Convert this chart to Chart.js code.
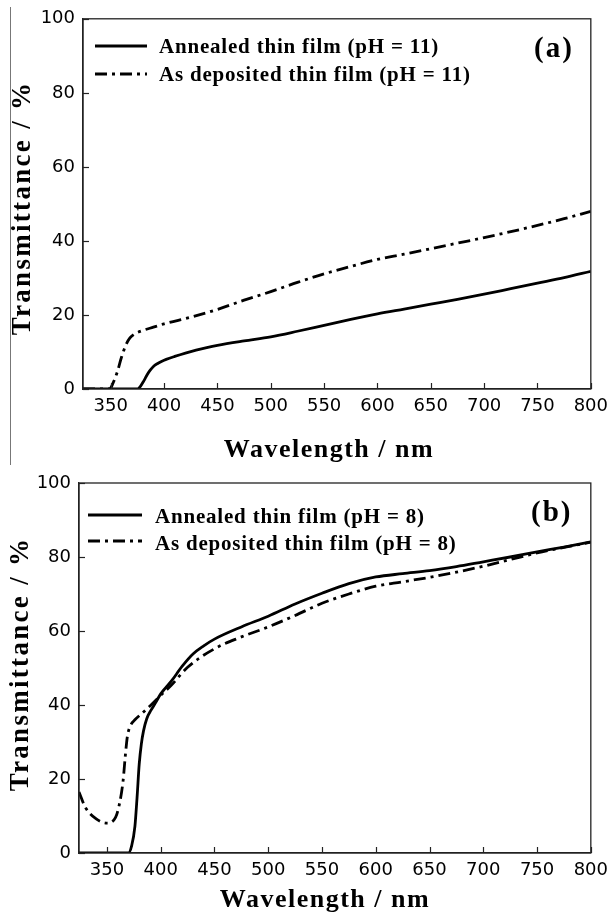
<!DOCTYPE html>
<html><head><meta charset="utf-8">
<script src="https://cdn.jsdelivr.net/npm/chart.js@4.4.1/dist/chart.umd.min.js"></script>
<style>
html,body{margin:0;padding:0;background:#fff;}
#wrap{position:relative;width:615px;height:924px;overflow:hidden;background:#fff;}
.panel{position:absolute;left:0;width:615px;height:462px;}
#edge{position:absolute;left:10px;top:7px;width:0;height:458px;border-left:1px solid #777;}
</style></head><body>
<div id="wrap">
<div class="panel" style="top:0"><canvas id="ca" width="615" height="462"></canvas></div>
<div class="panel" style="top:462px"><canvas id="cb" width="615" height="462"></canvas></div>
<div id="edge"></div>
</div>
<script>
// ---- axis / tick data ----
const xTickValues = [350, 400, 450, 500, 550, 600, 650, 700, 750, 800];
const yTickValues = [0, 20, 40, 60, 80, 100];
const xMin = 324, xMax = 800, yMin = 0, yMax = 100;
const yTitle = "Transmittance / %";
const xTitle = "Wavelength / nm";

// ---- panel (a): pH = 11 ----
const labelsA = ["Annealed thin film (pH = 11)", "As deposited thin film (pH = 11)"];
const aAnnealedWl = [324, 350, 375, 378, 381, 384, 387, 390, 394, 398, 402, 410, 420, 430, 440, 450, 475, 500, 525, 550, 575, 600, 625, 650, 675, 700, 725, 750, 775, 800];
const aAnnealedT  = [0, 0, 0, 0.8, 2.2, 3.8, 5.1, 6.1, 6.9, 7.5, 8.0, 8.8, 9.7, 10.5, 11.2, 11.8, 13.0, 14.1, 15.6, 17.2, 18.8, 20.3, 21.6, 22.9, 24.2, 25.6, 27.1, 28.6, 30.1, 31.8];
const aDepositedWl = [324, 349, 352, 356, 360, 364, 368, 372, 380, 390, 400, 425, 450, 475, 500, 525, 550, 575, 600, 625, 650, 675, 700, 725, 750, 775, 800];
const aDepositedT  = [0, 0, 1.5, 4.5, 8.5, 11.8, 13.8, 14.8, 15.8, 16.7, 17.6, 19.4, 21.5, 24.0, 26.3, 28.8, 31.1, 33.1, 35.0, 36.4, 37.9, 39.4, 40.9, 42.5, 44.2, 46.0, 48.0];

// ---- panel (b): pH = 8 ----
const labelsB = ["Annealed thin film (pH = 8)", "As deposited thin film (pH = 8)"];
const bAnnealedWl = [324, 350, 370, 373, 376, 378, 380, 382, 384, 387, 391, 395, 400, 410, 420, 430, 440, 450, 475, 500, 525, 550, 575, 600, 625, 650, 675, 700, 725, 750, 775, 800];
const bAnnealedT  = [0, 0, 0, 2.0, 7.2, 15.0, 24.0, 29.5, 33.0, 36.3, 38.6, 40.5, 43.0, 46.5, 50.5, 53.8, 56.0, 57.8, 61.1, 64.0, 67.3, 70.2, 72.8, 74.6, 75.5, 76.3, 77.4, 78.7, 80.0, 81.4, 82.7, 84.1];
const bDepositedWl = [324, 330, 340, 350, 358, 362, 365, 367, 369, 372, 376, 382, 391, 400, 410, 425, 450, 475, 500, 525, 550, 575, 600, 625, 650, 675, 700, 725, 750, 775, 800];
const bDepositedT  = [16.5, 12.3, 9.2, 8.1, 9.6, 13.8, 19.5, 26.0, 31.5, 34.5, 36.0, 37.6, 40.0, 42.6, 45.4, 50.2, 55.2, 58.4, 61.1, 64.2, 67.5, 70.0, 72.1, 73.3, 74.5, 75.9, 77.5, 79.3, 81.1, 82.6, 84.0];

const toPts = (xs, ys) => xs.map((x, i) => ({x: x, y: ys[i]}));
const DASHDOT = [12, 5, 3, 5];

function makeChart(id, cfg) {
  const ctx = document.getElementById(id);
  const datasets = [
    {label: cfg.labels[0], data: toPts(cfg.s1x, cfg.s1y), borderColor: '#000', borderWidth: 2.8, borderDash: [], pointRadius: 0, cubicInterpolationMode: 'monotone', fill: false},
    {label: cfg.labels[1], data: toPts(cfg.s2x, cfg.s2y), borderColor: '#000', borderWidth: 2.8, borderDash: DASHDOT, pointRadius: 0, cubicInterpolationMode: 'monotone', fill: false}
  ];
  const deco = {
    id: 'deco',
    afterDraw(chart) {
      const c = chart.ctx, a = chart.chartArea, sx = chart.scales.x, sy = chart.scales.y;
      c.save();
      // frame
      c.strokeStyle = '#222'; c.lineWidth = 1.3; c.setLineDash([]);
      c.strokeRect(a.left, a.top, a.right - a.left, a.bottom - a.top);
      // inside ticks
      c.lineWidth = 1.2;
      xTickValues.forEach(v => {
        const px = Math.round(sx.getPixelForValue(v)) + 0.5;
        c.beginPath(); c.moveTo(px, a.bottom); c.lineTo(px, a.bottom - 6); c.stroke();
      });
      yTickValues.forEach(v => {
        const py = Math.round(sy.getPixelForValue(v)) + 0.5;
        c.beginPath(); c.moveTo(a.left, py); c.lineTo(a.left + 6, py); c.stroke();
      });
      // legend
      c.fillStyle = '#000'; c.strokeStyle = '#000';
      chart.data.datasets.forEach((ds, i) => {
        const L = cfg.legend[i];
        c.lineWidth = 2.8; c.setLineDash(ds.borderDash || []);
        c.beginPath(); c.moveTo(L.x1, L.y); c.lineTo(L.x2, L.y); c.stroke();
        c.setLineDash([]);
        c.font = 'bold 21px "Liberation Serif", "DejaVu Serif", serif';
        try { c.letterSpacing = '0.8px'; } catch (e) {}
        c.textAlign = 'left'; c.textBaseline = 'alphabetic';
        c.fillText(ds.label, L.tx, L.ty);
      });
      // panel tag
      c.font = 'bold 29px "Liberation Serif", serif';
      try { c.letterSpacing = '2px'; } catch (e) {}
      c.textAlign = 'left'; c.textBaseline = 'alphabetic';
      c.fillText(cfg.tag, cfg.tagX, cfg.tagY);
      // x title
      c.font = 'bold 26px "Liberation Serif", serif';
      try { c.letterSpacing = '1.5px'; } catch (e) {}
      c.textAlign = 'center';
      c.fillText(xTitle, cfg.xtX, cfg.xtY);
      // y title
      c.save();
      c.translate(cfg.ytX, cfg.ytY); c.rotate(-Math.PI / 2);
      c.font = 'bold 27px "Liberation Serif", serif';
      try { c.letterSpacing = '2.3px'; } catch (e) {}
      c.textAlign = 'center'; c.textBaseline = 'middle';
      c.fillText(yTitle, 0, 0);
      c.restore();
      c.restore();
    }
  };
  return new Chart(ctx, {
    type: 'line',
    data: {datasets: datasets},
    options: {
      responsive: false, animation: false, devicePixelRatio: 1,
      layout: {padding: {left: 0, top: cfg.padTop, right: cfg.padRight, bottom: 0}},
      plugins: {legend: {display: false}, tooltip: {enabled: false}, title: {display: false}},
      scales: {
        x: {
          type: 'linear', min: xMin, max: xMax,
          afterBuildTicks: s => { s.ticks = xTickValues.map(v => ({value: v})); },
          afterFit: s => { s.height = cfg.xH; },
          grid: {display: false, drawTicks: false},
          border: {display: true, color: '#222', width: 1.3},
          ticks: {color: '#000', padding: 7, maxRotation: 0, autoSkip: false, font: {family: '"DejaVu Sans", sans-serif', size: 18}}
        },
        y: {
          type: 'linear', min: yMin, max: yMax,
          afterBuildTicks: s => { s.ticks = yTickValues.map(v => ({value: v})); },
          afterFit: s => { s.width = cfg.yW; },
          grid: {display: false, drawTicks: false},
          border: {display: true, color: '#222', width: 1.3},
          ticks: {color: '#000', padding: 8, font: {family: '"DejaVu Sans", sans-serif', size: 18}}
        }
      }
    },
    plugins: [deco]
  });
}

makeChart('ca', {
  labels: labelsA, s1x: aAnnealedWl, s1y: aAnnealedT, s2x: aDepositedWl, s2y: aDepositedT,
  padTop: 17, padRight: 19, yW: 83, xH: 73,
  legend: [{x1: 95, x2: 147, y: 46, tx: 159, ty: 53}, {x1: 95, x2: 147, y: 74, tx: 159, ty: 81}],
  tag: '(a)', tagX: 534, tagY: 57,
  xtX: 329, xtY: 457, ytX: 23, ytY: 208
});
makeChart('cb', {
  labels: labelsB, s1x: bAnnealedWl, s1y: bAnnealedT, s2x: bDepositedWl, s2y: bDepositedT,
  padTop: 21, padRight: 23, yW: 79, xH: 71,
  legend: [{x1: 88, x2: 142, y: 53, tx: 155, ty: 61}, {x1: 88, x2: 142, y: 79, tx: 155, ty: 88}],
  tag: '(b)', tagX: 531, tagY: 59,
  xtX: 325, xtY: 445, ytX: 21, ytY: 202
});
</script>
</body></html>
